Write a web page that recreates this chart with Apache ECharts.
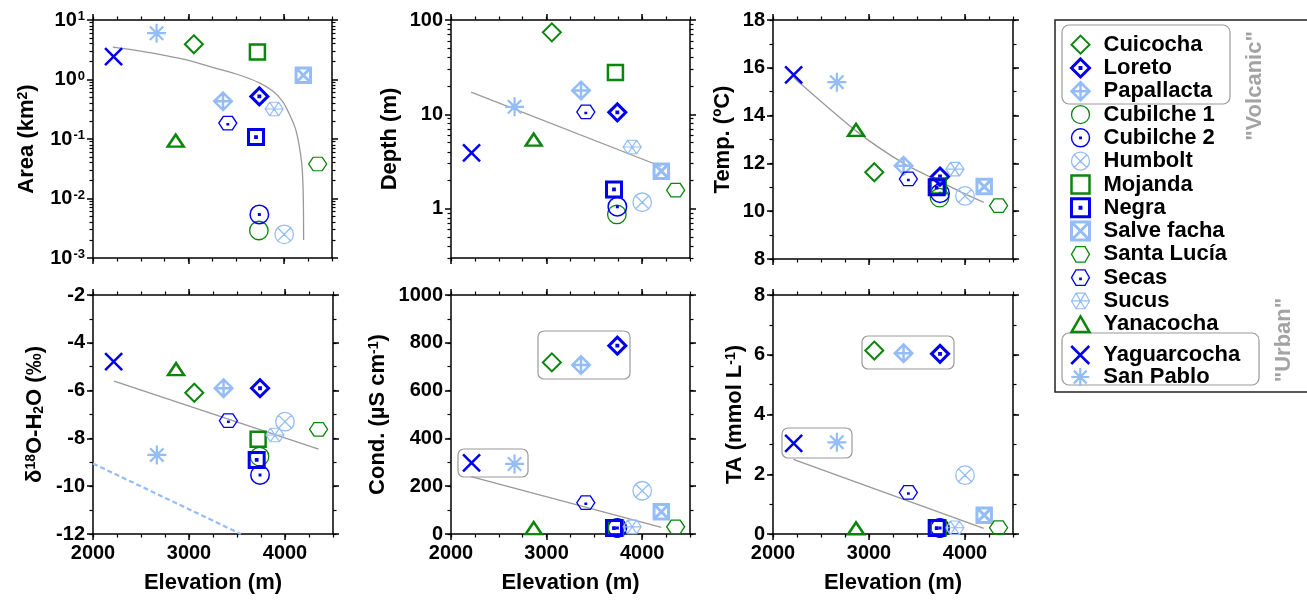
<!DOCTYPE html>
<html>
<head>
<meta charset="utf-8">
<script src="https://cdn.jsdelivr.net/npm/echarts@6/dist/echarts.min.js"></script>
<style>html,body{margin:0;padding:0;background:#fff}#chart{width:1307px;height:601px}</style>
</head>
<body>
<div id="chart"></div>
<script>
// lakes and their elevation (m)
const sites = ['Cuicocha', 'Loreto', 'Papallacta', 'Cubilche 1', 'Cubilche 2', 'Humbolt', 'Mojanda', 'Negra',
  'Salve facha', 'Santa Lucía', 'Secas', 'Sucus', 'Yanacocha', 'Yaguarcocha', 'San Pablo'];
const elevation = [3055, 3740, 3360, 3735, 3740, 4000, 3720, 3705, 4200, 4350, 3410, 3895, 2865, 2215, 2665];

// one value per site, same order as sites
const area = [3.9, 0.52, 0.43, 0.0029, 0.0054, 0.0025, 2.9, 0.108, 1.18, 0.038, 0.185, 0.32, 0.094, 2.42, 6.0];
const depth = [74, 10.5, 17.9, 0.87, 1.05, 1.17, 27.8, 1.6, 2.5, 1.57, 10.6, 4.5, 5.4, 3.9, 12.0];
const temp = [11.63, 11.45, 11.9, 10.57, 10.75, 10.64, 11.05, 11.0, 11.03, 10.23, 11.35, 11.76, 13.4, 15.7, 15.4];
const d18O = [-6.09, -5.9, -5.9, -8.76, -9.53, -7.3, -8.04, -8.9, null, -7.62, -7.26, -7.86, -5.1, -4.79, -8.69];
const cond = [718, 788, 707, 25, 25, 181, 25, 25, 93, 30, 131, 30, 25, 298, 293];
const ta = [6.14, 6.03, 6.05, 0.2, 0.2, 1.97, 0.2, 0.2, 0.63, 0.21, 1.39, 0.21, 0.19, 3.03, 3.07];

// fitted lines [elevation, value]
const areaFit = [[2208, 3.5], [2500, 3.0], [2800, 2.45], [3000, 2.1], [3250, 1.6], [3530, 1.19], [3740, 0.88],
  [3880, 0.64], [3983, 0.43], [4050, 0.27], [4120, 0.145], [4158, 0.075], [4186, 0.035], [4199, 0.012], [4203, 0.002]];
const depthFit = [[2210, 17.2], [4200, 2.8]];
const tempFit = [[2215, 15.6], [2282, 15.35], [2874, 13.33], [3361, 12.0], [3743, 11.23], [4021, 10.68], [4195, 10.37]];
const d18OFit = [[2220, -5.6], [4350, -8.45]];
const d18OLocal = [[2000, -9.05], [3540, -12]];
const condFit = [[2210, 240], [4200, 28]];
const taFit = [[2212, 2.5], [4195, 0.19]];

// tick labels
const xTicks = [2000, 3000, 4000];
const areaTicks = [0.001, 0.01, 0.1, 1, 10];
const depthTicks = [1, 10, 100];

const F = "'Liberation Sans', Arial, sans-serif";
const G = '#0b850b', B = '#0000ee', L = '#94bdf7';

// marker outlines (drawn as strokes)
const DIAMOND = 'M10 0 L20 10 L10 20 L0 10 Z';
const DOT = ' M9.5 9.5 L10.5 9.5 L10.5 10.5 L9.5 10.5 Z';
const DOT2 = ' M9.2 9.2 L10.8 9.2 L10.8 10.8 L9.2 10.8 Z';
const CIRCLE = 'M0 10 A10 10 0 1 1 20 10 A10 10 0 1 1 0 10 Z';
const SQUARE = 'M0 0 L20 0 L20 20 L0 20 Z';
const HEX = 'M0 8.66 L5 0 L15 0 L20 8.66 L15 17.32 L5 17.32 Z';
const sym = {
  'Cuicocha': { p: DIAMOND, s: [18, 18], c: G, w: 2 },
  'Loreto': { p: DIAMOND + DOT, s: [17, 17], c: B, w: 3 },
  'Papallacta': { p: DIAMOND + ' M10 0 L10 20 M0 10 L20 10', s: [17.5, 17.5], c: L, w: 2.5 },
  'Cubilche 1': { p: CIRCLE, s: [18.5, 18.5], c: G, w: 1.3 },
  'Cubilche 2': { p: CIRCLE + DOT2, s: [18.5, 18.5], c: B, w: 1.5 },
  'Humbolt': { p: CIRCLE + ' M2.93 2.93 L17.07 17.07 M17.07 2.93 L2.93 17.07', s: [18.5, 18.5], c: L, w: 1.3 },
  'Mojanda': { p: SQUARE, s: [15, 15], c: G, w: 2.5 },
  'Negra': { p: SQUARE + DOT, s: [15, 15], c: B, w: 3 },
  'Salve facha': { p: SQUARE + ' M0 0 L20 20 M20 0 L0 20', s: [14.5, 14.5], c: L, w: 3 },
  'Santa Lucía': { p: HEX, s: [18, 15.6], c: G, w: 1.3 },
  'Secas': { p: HEX + DOT2, s: [18, 15.6], c: B, w: 1.3 },
  'Sucus': { p: HEX + ' M0 8.66 L20 8.66 M5 0 L15 17.32 M15 0 L5 17.32', s: [18, 15.6], c: L, w: 1.2 },
  'Yanacocha': { p: 'M10 0 L20 17.32 L0 17.32 Z', s: [16, 13.9], c: G, w: 2.5 },
  'Yaguarcocha': { p: 'M0 0 L20 20 M20 0 L0 20', s: [17, 17], c: B, w: 2.5 },
  'San Pablo': { p: 'M10 0 L10 20 M0 10 L20 10 M2.93 2.93 L17.07 17.07 M17.07 2.93 L2.93 17.07', s: [19, 19], c: L, w: 2.2 }
};

function logMinor(lo, hi) {
  const out = [];
  for (let e = Math.floor(lo); e < hi; e++) {
    for (let k = 2; k <= 9; k++) {
      const v = Math.log10(k) + e;
      if (v >= lo - 1e-9 && v <= hi + 1e-9) out.push(v);
    }
  }
  return out;
}

const grids = [
  { left: 93, top: 20, width: 239, height: 238 },
  { left: 451, top: 20, width: 239, height: 238 },
  { left: 773, top: 20, width: 240, height: 239 },
  { left: 93, top: 295, width: 240, height: 239 },
  { left: 451, top: 295, width: 239, height: 239 },
  { left: 773, top: 295, width: 240, height: 239 }
];

const supRich = {
  b: { fontSize: 20, fontWeight: 'bold', fontFamily: F, color: '#000' },
  s: { fontSize: 13, fontWeight: 'bold', fontFamily: F, color: '#000', verticalAlign: 'top', padding: [0, 0, 0, 1] }
};
const nameRich = {
  s: { fontSize: 14, fontWeight: 'bold', fontFamily: F, color: '#000', verticalAlign: 'top' },
  u: { fontSize: 14, fontWeight: 'bold', fontFamily: F, color: '#000', verticalAlign: 'bottom' }
};

const panels = [
  { values: area, log: true, min: -3, max: 1, major: areaTicks.map(Math.log10), minor: logMinor(-3, 1),
    fmt: v => '{b|10}{s|' + Math.round(v) + '}', name: 'Area (km{s|2})', gap: 55 },
  { values: depth, log: true, min: Math.log10(0.3), max: 2, major: depthTicks.map(Math.log10), minor: logMinor(Math.log10(0.3), 2),
    fmt: v => '{b|' + Math.round(Math.pow(10, v)) + '}', name: 'Depth (m)', gap: 50 },
  { values: temp, min: 8, max: 18, interval: 2, name: 'Temp. (ºC)', gap: 39 },
  { values: d18O, min: -12, max: -2, interval: 2, name: 'δ{s|18}O-H{u|2}O (‰)', gap: 47 },
  { values: cond, min: 0, max: 1000, interval: 200, name: 'Cond. (µS cm{s|-1})', gap: 62 },
  { values: ta, min: 0, max: 8, interval: 2, name: 'TA (mmol L{s|-1})', gap: 27 }
];
const fits = [
  [areaFit, true], [depthFit, false], [tempFit, true], [d18OFit, false], [condFit, false], [taFit, false]
];

const axLine = { show: true, onZero: false, lineStyle: { color: '#000', width: 1.5 } };
const noLine = { show: false, onZero: false };
const tickMaj = { show: true, length: 6, lineStyle: { color: '#000', width: 1.5 } };
const tickMin = { show: true, length: 3.5, lineStyle: { color: '#000', width: 1.2 } };
const noLabel = { show: false };
const plain = v => String(v);

const xAxis = [], yAxis = [];
grids.forEach((g, gi) => {
  const bottomRow = gi >= 3;
  ['bottom', 'top'].forEach(pos => {
    xAxis.push({
      type: 'value', gridIndex: gi, position: pos, min: 2000, max: 4500, splitLine: { show: false },
      axisLine: axLine, axisTick: Object.assign({ customValues: xTicks }, tickMaj),
      axisLabel: pos === 'bottom' && bottomRow
        ? { customValues: xTicks, formatter: plain, margin: 9, fontSize: 20, fontWeight: 'bold', fontFamily: F, color: '#000' }
        : noLabel,
      name: pos === 'bottom' && bottomRow ? 'Elevation (m)' : '', nameLocation: 'middle', nameGap: 38,
      nameTextStyle: { fontSize: 22, fontWeight: 'bold', fontFamily: F, color: '#000' }
    });
    xAxis.push({
      type: 'value', gridIndex: gi, position: pos, min: 2000, max: 4500, interval: 250, splitLine: { show: false },
      axisLine: noLine, axisTick: tickMin, axisLabel: noLabel
    });
  });
  const p = panels[gi];
  ['left', 'right'].forEach(pos => {
    const main = {
      type: 'value', gridIndex: gi, position: pos, min: p.min, max: p.max, splitLine: { show: false }, axisLine: axLine
    };
    const minor = {
      type: 'value', gridIndex: gi, position: pos, min: p.min, max: p.max, splitLine: { show: false },
      axisLine: noLine, axisLabel: noLabel
    };
    const lbl = { show: pos === 'left', margin: 8, fontSize: 20, fontWeight: 'bold', fontFamily: F, color: '#000', formatter: plain };
    if (p.log) {
      main.axisTick = Object.assign({ customValues: p.major }, tickMaj);
      lbl.customValues = p.major;
      lbl.formatter = p.fmt;
      lbl.rich = supRich;
      minor.axisTick = Object.assign({ customValues: p.minor }, tickMin);
    } else {
      main.interval = p.interval;
      main.axisTick = tickMaj;
      minor.interval = p.interval / 2;
      minor.axisTick = tickMin;
    }
    main.axisLabel = lbl;
    if (pos === 'left') {
      main.name = p.name;
      main.nameLocation = 'middle';
      main.nameGap = p.gap;
      main.nameRotate = 90;
      main.nameTextStyle = { fontSize: 22, fontWeight: 'bold', fontFamily: F, color: '#000', rich: nameRich };
    }
    yAxis.push(main, minor);
  });
});

const series = [];
const toY = (p, v) => (p.log ? Math.log10(v) : v);
panels.forEach((p, gi) => {
  const ax = gi * 4;
  series.push({
    type: 'line', name: 'fit' + gi, xAxisIndex: ax, yAxisIndex: ax, symbol: 'none', silent: true,
    smooth: fits[gi][1] ? 0.3 : false, z: 1,
    lineStyle: { color: '#999', width: 1.3 },
    data: fits[gi][0].map(d => [d[0], toY(p, d[1])])
  });
  if (gi === 3) {
    series.push({
      type: 'line', name: 'local', xAxisIndex: ax, yAxisIndex: ax, symbol: 'none', silent: true, z: 1,
      lineStyle: { color: L, width: 2.2, type: [5, 3] },
      data: d18OLocal
    });
  }
  sites.forEach((name, si) => {
    const v = p.values[si];
    if (v == null) return;
    const m = sym[name];
    series.push({
      type: 'scatter', name: name, xAxisIndex: ax, yAxisIndex: ax, clip: false, z: 3,
      symbol: 'path://' + m.p, symbolSize: m.s, symbolKeepAspect: true,
      itemStyle: { color: 'rgba(0,0,0,0)', borderColor: m.c, borderWidth: m.w, opacity: 1 },
      data: [[elevation[si], toY(p, v)]]
    });
  });
});

const legendBase = {
  orient: 'vertical', left: 1065, itemWidth: 18, itemHeight: 18, itemGap: 0, selectedMode: false,
  itemStyle: { borderWidth: 'inherit' },
  textStyle: { fontSize: 22, fontWeight: 'bold', fontFamily: F, color: '#000', lineHeight: 23.3, padding: [0, 0, 0, 9] }
};

const box = (x, y, w, h, r) => ({
  type: 'rect', shape: { x: x, y: y, width: w, height: h, r: r }, silent: true,
  style: { fill: 'none', stroke: '#9a9a9a', lineWidth: 1.2 }, z: 0
});
const grayText = (x, y, t) => ({
  type: 'text', x: x, y: y, rotation: Math.PI / 2, silent: true,
  style: { text: t, fill: '#a3a3a3', font: 'bold 22px ' + F, align: 'center', verticalAlign: 'middle' }
});

const option = {
  animation: false,
  backgroundColor: '#fff',
  grid: grids,
  xAxis: xAxis,
  yAxis: yAxis,
  legend: [
    Object.assign({}, legendBase, { top: 28, data: sites.slice(0, 13) }),
    Object.assign({}, legendBase, { top: 339, textStyle: Object.assign({}, legendBase.textStyle, { lineHeight: 21.5 }), data: sites.slice(13) })
  ],
  graphic: [
    { type: 'rect', shape: { x: 1055, y: 20, width: 300, height: 372 }, silent: true, style: { fill: 'none', stroke: '#222', lineWidth: 1.5 } },
    box(1062, 25, 168, 79, 7),
    box(1062, 333, 197, 52, 7),
    grayText(1255, 86, '"Volcanic"'),
    grayText(1284, 340, '"Urban"'),
    box(538, 331, 92, 48, 6),
    box(458, 449, 70, 28, 6),
    box(862, 336, 92, 33, 6),
    box(782, 428, 70, 30, 6)
  ],
  series: series
};

const chart = echarts.init(document.getElementById('chart'), null, { renderer: 'canvas' });
chart.setOption(option);
</script>
</body>
</html>
